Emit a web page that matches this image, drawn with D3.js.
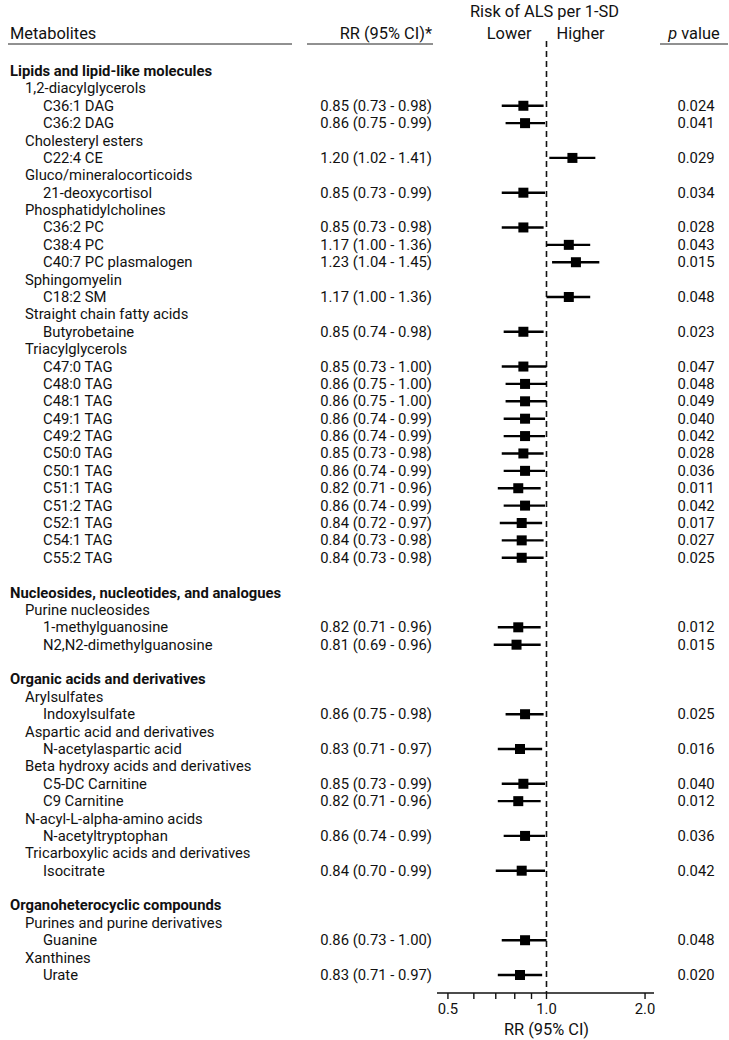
<!DOCTYPE html>
<html>
<head>
<meta charset="utf-8">
<script src="https://cdn.jsdelivr.net/npm/d3@7"></script>
<style>
  body { margin: 0; background: #fff; }
  svg { font-family: Roboto, "Open Sans", sans-serif; fill: #111; }
</style>
</head>
<body>
<svg id="chart" width="729" height="1040"></svg>
<script>
// rows, top to bottom; level 0 = class, 1 = subclass, 2 = metabolite, -1 = spacer
const labels = [
  "Lipids and lipid-like molecules", "1,2-diacylglycerols", "C36:1 DAG", "C36:2 DAG",
  "Cholesteryl esters", "C22:4 CE", "Gluco/mineralocorticoids", "21-deoxycortisol",
  "Phosphatidylcholines", "C36:2 PC", "C38:4 PC", "C40:7 PC plasmalogen",
  "Sphingomyelin", "C18:2 SM", "Straight chain fatty acids", "Butyrobetaine",
  "Triacylglycerols", "C47:0 TAG", "C48:0 TAG", "C48:1 TAG", "C49:1 TAG", "C49:2 TAG",
  "C50:0 TAG", "C50:1 TAG", "C51:1 TAG", "C51:2 TAG", "C52:1 TAG", "C54:1 TAG", "C55:2 TAG",
  "",
  "Nucleosides, nucleotides, and analogues", "Purine nucleosides", "1-methylguanosine",
  "N2,N2-dimethylguanosine",
  "",
  "Organic acids and derivatives", "Arylsulfates", "Indoxylsulfate",
  "Aspartic acid and derivatives", "N-acetylaspartic acid",
  "Beta hydroxy acids and derivatives", "C5-DC Carnitine", "C9 Carnitine",
  "N-acyl-L-alpha-amino acids", "N-acetyltryptophan",
  "Tricarboxylic acids and derivatives", "Isocitrate",
  "",
  "Organoheterocyclic compounds", "Purines and purine derivatives", "Guanine",
  "Xanthines", "Urate"
]
const levels = [
  0, 1, 2, 2, 1, 2, 1, 2, 1, 2, 2, 2, 1, 2, 1, 2,
  1, 2, 2, 2, 2, 2, 2, 2, 2, 2, 2, 2, 2,
  -1,
  0, 1, 2, 2,
  -1,
  0, 1, 2, 1, 2, 1, 2, 2, 1, 2, 1, 2,
  -1,
  0, 1, 2, 1, 2
]
const rr = [
  null, null, 0.85, 0.86, null, 1.20, null, 0.85, null, 0.85, 1.17, 1.23, null, 1.17, null, 0.85,
  null, 0.85, 0.86, 0.86, 0.86, 0.86, 0.85, 0.86, 0.82, 0.86, 0.84, 0.84, 0.84,
  null,
  null, null, 0.82, 0.81,
  null,
  null, null, 0.86, null, 0.83, null, 0.85, 0.82, null, 0.86, null, 0.84,
  null,
  null, null, 0.86, null, 0.83
]
const lower = [
  null, null, 0.73, 0.75, null, 1.02, null, 0.73, null, 0.73, 1.00, 1.04, null, 1.00, null, 0.74,
  null, 0.73, 0.75, 0.75, 0.74, 0.74, 0.73, 0.74, 0.71, 0.74, 0.72, 0.73, 0.73,
  null,
  null, null, 0.71, 0.69,
  null,
  null, null, 0.75, null, 0.71, null, 0.73, 0.71, null, 0.74, null, 0.70,
  null,
  null, null, 0.73, null, 0.71
]
const upper = [
  null, null, 0.98, 0.99, null, 1.41, null, 0.99, null, 0.98, 1.36, 1.45, null, 1.36, null, 0.98,
  null, 1.00, 1.00, 1.00, 0.99, 0.99, 0.98, 0.99, 0.96, 0.99, 0.97, 0.98, 0.98,
  null,
  null, null, 0.96, 0.96,
  null,
  null, null, 0.98, null, 0.97, null, 0.99, 0.96, null, 0.99, null, 0.99,
  null,
  null, null, 1.00, null, 0.97
]
const pValues = [
  null, null, "0.024", "0.041", null, "0.029", null, "0.034", null, "0.028", "0.043", "0.015", null, "0.048", null, "0.023",
  null, "0.047", "0.048", "0.049", "0.040", "0.042", "0.028", "0.036", "0.011", "0.042", "0.017", "0.027", "0.025",
  null,
  null, null, "0.012", "0.015",
  null,
  null, null, "0.025", null, "0.016", null, "0.040", "0.012", null, "0.036", null, "0.042",
  null,
  null, null, "0.048", null, "0.020"
]
const majorTicks = [0.5, 1.0, 2.0]
const minorTicks = [0.6, 0.7, 0.8, 0.9]

const svg = d3.select("#chart")
const fmt = d3.format(".2f")

const x = d3.scaleLog().domain([0.463, 2.13]).range([437, 654])
const y = d3.scaleLinear().domain([0, labels.length - 1]).range([71, 975])
const indent = [10, 25, 43]
const rrRight = 432,
  pCenter = 696,
  axisY = 993,
  bodySize = "14.8px",
  headSize = "16.4px"

// Header
svg.append("text").attr("x", x(1) - 2).attr("y", 17).attr("text-anchor", "middle")
  .style("font-size", headSize).text("Risk of ALS per 1-SD")
svg.append("text").attr("x", 10).attr("y", 39).style("font-size", headSize).text("Metabolites")
svg.append("text").attr("x", rrRight).attr("y", 39).attr("text-anchor", "end")
  .style("font-size", headSize).text("RR (95% CI)*")
svg.append("text").attr("x", x(1) - 15).attr("y", 39).attr("text-anchor", "end")
  .style("font-size", headSize).text("Lower")
svg.append("text").attr("x", x(1) + 10).attr("y", 39).style("font-size", headSize).text("Higher")
const pHead = svg.append("text").attr("x", pCenter - 2).attr("y", 39).attr("text-anchor", "middle")
  .style("font-size", headSize)
pHead.append("tspan").style("font-style", "italic").text("p")
pHead.append("tspan").text(" value")

const rules = [[8, 292], [307, 433], [660, 728]]
svg.selectAll(".rule").data(rules).join("line")
  .attr("x1", (d) => d[0]).attr("x2", (d) => d[1])
  .attr("y1", 44).attr("y2", 44)
  .attr("stroke", "#222").attr("stroke-width", 1)

// Reference line
svg.append("line")
  .attr("x1", x(1)).attr("x2", x(1)).attr("y1", 41).attr("y2", axisY)
  .attr("stroke", "#111").attr("stroke-width", 1.6).attr("stroke-dasharray", "6,4")

const rows = labels.map((label, i) => ({
  label, level: levels[i], rr: rr[i], lo: lower[i], hi: upper[i], p: pValues[i], i
}))

// Labels
svg.selectAll(".label").data(rows.filter((d) => d.level >= 0)).join("text")
  .attr("class", "label")
  .attr("x", (d) => indent[d.level])
  .attr("y", (d) => y(d.i) + 5)
  .style("font-size", bodySize)
  .style("font-weight", (d) => (d.level === 0 ? "bold" : "normal"))
  .text((d) => d.label)

const est = rows.filter((d) => d.rr !== null)

svg.selectAll(".rrtxt").data(est).join("text")
  .attr("x", rrRight).attr("y", (d) => y(d.i) + 5).attr("text-anchor", "end")
  .style("font-size", bodySize)
  .text((d) => `${fmt(d.rr)} (${fmt(d.lo)} - ${fmt(d.hi)})`)

svg.selectAll(".ptxt").data(est).join("text")
  .attr("x", pCenter).attr("y", (d) => y(d.i) + 5).attr("text-anchor", "middle")
  .style("font-size", bodySize)
  .text((d) => d.p)

// CI lines and squares
svg.selectAll(".ci").data(est).join("line")
  .attr("x1", (d) => x(d.lo)).attr("x2", (d) => x(d.hi))
  .attr("y1", (d) => y(d.i)).attr("y2", (d) => y(d.i))
  .attr("stroke", "#000").attr("stroke-width", 2.4)

svg.selectAll(".pt").data(est).join("rect")
  .attr("x", (d) => x(d.rr) - 5).attr("y", (d) => y(d.i) - 5)
  .attr("width", 10).attr("height", 10)
  .attr("fill", "#000")

// Axis
const axis = svg.append("g").attr("transform", `translate(0,${axisY})`)
axis.append("line").attr("x1", 437).attr("x2", 654).attr("stroke", "#111").attr("stroke-width", 1.6)
axis.selectAll(".tick").data(majorTicks.concat(minorTicks)).join("line")
  .attr("x1", (d) => x(d)).attr("x2", (d) => x(d)).attr("y1", 0).attr("y2", 6)
  .attr("stroke", "#111").attr("stroke-width", 1.4)
axis.selectAll(".tl").data(majorTicks).join("text")
  .attr("x", (d) => x(d)).attr("y", 21).attr("text-anchor", "middle")
  .style("font-size", bodySize).text((d) => d.toFixed(1))
axis.append("text").attr("x", x(1)).attr("y", 42).attr("text-anchor", "middle")
  .style("font-size", headSize).text("RR (95% CI)")
</script>
</body>
</html>
